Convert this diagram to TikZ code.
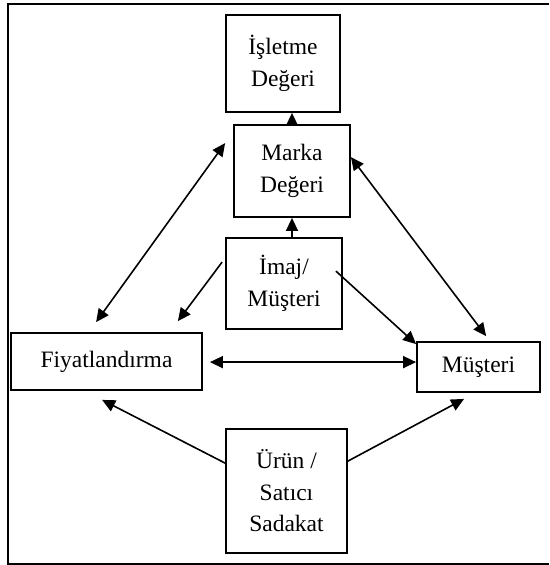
\documentclass[tikz,border=0pt]{standalone}
\usepackage{fontspec}
\setmainfont{Liberation Serif}
\usetikzlibrary{arrows.meta,calc}
\begin{document}
\begin{tikzpicture}[x=1pt,y=-1pt,
  box/.style={draw,line width=1.8pt,inner sep=0pt,align=center,font=\fontsize{23.5}{31.5}\selectfont},
  conn/.style={line width=1.6pt},
  tip/.style={-{Triangle[length=13pt,width=12pt]}},
  both/.style={{Triangle[length=13pt,width=12pt]}-{Triangle[length=13pt,width=12pt]}}]
\useasboundingbox (0,0) rectangle (549,565);
\draw[line width=2pt] (549,4) -- (8,4) -- (8,564) -- (549,564);
\node[box,minimum width=114pt,minimum height=97pt] (isletme) at (283,63.5) {İşletme\\Değeri};
\node[box,minimum width=116pt,minimum height=92pt] (marka) at (292,171) {Marka\\Değeri};
\node[box,minimum width=116pt,minimum height=91pt] (imaj) at (284,283.5) {İmaj/\\Müşteri};
\node[box,minimum width=191pt,minimum height=57pt] (fiyat) at (106.5,361.5) {Fiyatlandırma};
\node[box,minimum width=123pt,minimum height=50pt] (musteri) at (478.5,367) {Müşteri};
\node[box,minimum width=121pt,minimum height=124pt] (urun) at (286.5,491) {Ürün /\\Satıcı\\Sadakat};
% arrows
\draw[conn,tip] (marka.south |- imaj.north) -- (marka.south);
\draw[conn,tip] (marka.north) -- (marka.north |- isletme.south);
\draw[conn,both] ($(fiyat.north west)+(86,-10)$) -- ($(marka.north west)+(-8,19)$);
\draw[conn,tip] ($(imaj.north west)+(-3,25)$) -- ($(fiyat.north east)+(-25,-11)$);
\draw[conn,both] ($(marka.north east)+(0,33)$) -- ($(musteri.north west)+(70,-5)$);
\draw[conn,tip] ($(imaj.north east)+(-7,34)$) -- ($(musteri.north west)+(0,3)$);
\draw[conn,both] ($(fiyat.north east)+(7,30)$) -- ($(musteri.north west)+(0,21)$);
\draw[conn,tip] ($(urun.north west)+(0,35)$) -- ($(fiyat.south west)+(92,9)$);
\draw[conn,tip] ($(urun.north east)+(0,33)$) -- ($(musteri.south west)+(48,6)$);
\end{tikzpicture}
\end{document}
